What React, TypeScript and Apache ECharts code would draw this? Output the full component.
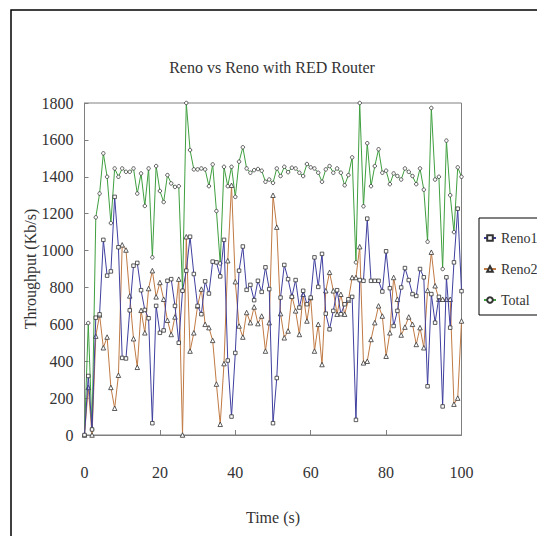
import React, { useEffect, useRef } from "react";
import * as echarts from "echarts";

const times: number[] = Array.from({ length: 101 }, (_, i) => i);

const reno1: number[] = [
  0, 320, 30, 636, 654, 1058, 864, 887, 1291, 1018,
  418, 415, 676, 918, 933, 785, 678, 633, 64, 700,
  554, 567, 836, 845, 700, 500, 782, 891, 1075, 873,
  700, 655, 833, 767, 940, 936, 860, 1058, 404, 100,
  445, 891, 1022, 787, 814, 731, 836, 776, 909, 791,
  64, 309, 745, 922, 845, 749, 840, 691, 782, 709,
  745, 963, 803, 982, 658, 573, 673, 785, 655, 709,
  736, 749, 82, 840, 836, 1173, 836, 836, 836, 778,
  996, 796, 591, 673, 800, 905, 840, 764, 754, 900,
  855, 264, 764, 609, 749, 155, 855, 582, 936, 1227,
  780,
];

const reno2: number[] = [
  0, 258, 0, 536, 651, 473, 531, 258, 145, 324,
  1031, 1003, 754, 522, 367, 676, 554, 794, 891, 749,
  827, 736, 622, 545, 640, 845, 0, 1075, 455, 554,
  700, 791, 600, 582, 513, 276, 58, 387, 945, 1354,
  831, 591, 531, 664, 609, 694, 604, 645, 455, 609,
  1300, 1127, 658, 527, 564, 754, 673, 545, 763, 618,
  745, 455, 600, 382, 782, 882, 782, 655, 763, 655,
  731, 854, 854, 1021, 391, 400, 518, 609, 700, 645,
  427, 554, 854, 736, 542, 585, 640, 600, 491, 582,
  473, 784, 991, 809, 736, 736, 736, 736, 167, 200,
  618,
];

const total: number[] = [
  0, 607, 30, 1180, 1309, 1527, 1400, 1149, 1445, 1400,
  1445, 1427, 1427, 1445, 1309, 1418, 1242, 1445, 963, 1458,
  1323, 1263, 1409, 1364, 1345, 1349, 782, 1800, 1545, 1440,
  1440, 1445, 1440, 1349, 1467, 1214, 930, 1454, 1349, 1454,
  1291, 1482, 1560, 1445, 1422, 1436, 1442, 1433, 1373, 1385,
  1367, 1445, 1404, 1454, 1425, 1449, 1445, 1422, 1404, 1469,
  1451, 1445, 1422, 1373, 1440, 1458, 1422, 1445, 1422, 1354,
  1409, 1505, 936, 1800, 1240, 1582, 1349, 1458, 1549, 1422,
  1433, 1360, 1418, 1404, 1385, 1445, 1427, 1404, 1360, 1445,
  1330, 1048, 1773, 1385, 1400, 900, 1596, 1300, 1100, 1451,
  1400,
];

const seriesNames = ["Reno1", "Reno2", "Total"];
const seriesColors = ["#3f3f9f", "#c07a44", "#3f9f3f"];
const seriesSymbols = ["rect", "triangle", "circle"];

const FONT = "Liberation Serif";

export default function App() {
  const ref = useRef<HTMLDivElement>(null);
  useEffect(() => {
    if (!ref.current) return;
    const chart = echarts.init(ref.current, undefined, { renderer: "svg" });
    const all = [reno1, reno2, total];
    chart.setOption({
      animation: false,
      backgroundColor: "#ffffff",
      textStyle: { fontFamily: FONT },
      title: {
        text: "Reno vs Reno with RED Router",
        left: 267,
        top: 54,
        textAlign: "center",
        textStyle: { fontFamily: FONT, fontSize: 16, fontWeight: "normal", color: "#333" },
      },
      graphic: [
        {
          type: "rect",
          shape: { x: 11, y: 10, width: 700, height: 700 },
          style: { fill: "none", stroke: "#000", lineWidth: 1.5 },
          z: -1,
        },
        {
          type: "text",
          x: 30,
          y: 269,
          rotation: Math.PI / 2,
          style: {
            text: "Throughput (Kb/s)",
            fontFamily: FONT,
            fontSize: 16,
            fill: "#333",
            textAlign: "center",
            textVerticalAlign: "middle",
          },
        },
      ],
      legend: {
        orient: "vertical",
        left: 479,
        top: 218,
        padding: [13, 30, 8, 4],
        itemGap: 17,
        itemWidth: 12,
        itemHeight: 7,
        borderColor: "#000",
        borderWidth: 1,
        textStyle: { fontFamily: FONT, fontSize: 14, color: "#333" },
        data: seriesNames,
      },
      grid: {
        left: 84.5,
        right: 75.5,
        top: 103,
        bottom: 101,
        show: true,
        borderColor: "#808080",
        borderWidth: 1,
        backgroundColor: "transparent",
      },
      xAxis: {
        type: "value",
        min: 0,
        max: 100,
        interval: 20,
        name: "Time (s)",
        nameLocation: "middle",
        nameGap: 74,
        nameTextStyle: { fontFamily: FONT, fontSize: 16, color: "#333" },
        axisLine: { lineStyle: { color: "#808080" } },
        axisTick: { inside: true, length: 5, lineStyle: { color: "#808080" } },
        axisLabel: { fontFamily: FONT, fontSize: 16, color: "#333", margin: 29 },
        splitLine: { show: false },
      },
      yAxis: {
        type: "value",
        min: 0,
        max: 1800,
        interval: 200,
        axisLine: { show: true, lineStyle: { color: "#808080" } },
        axisTick: { show: true, inside: true, length: 4, lineStyle: { color: "#808080" } },
        axisLabel: {
          fontFamily: FONT,
          fontSize: 16,
          color: "#333",
          margin: 11,
          formatter: (v: number) => String(v),
        },
        splitLine: { show: false },
      },
      series: seriesNames.map((name, k) => ({
        name,
        type: "line",
        data: times.map((t, i) => [t, all[k][i]]),
        symbol: seriesSymbols[k],
        symbolSize: k === 1 ? 4.5 : 3.5,
        showAllSymbol: true,
        clip: true,
        lineStyle: { color: seriesColors[k], width: 1 },
        itemStyle: { color: "#ffffff", borderColor: "#333", borderWidth: 0.8 },
        emphasis: { disabled: true },
        z: 2 + (2 - k),
      })),
    });
    return () => chart.dispose();
  }, []);
  return (
    <div
      ref={ref}
      style={{ position: "absolute", left: 0, top: 0, width: 537, height: 536 }}
    />
  );
}
